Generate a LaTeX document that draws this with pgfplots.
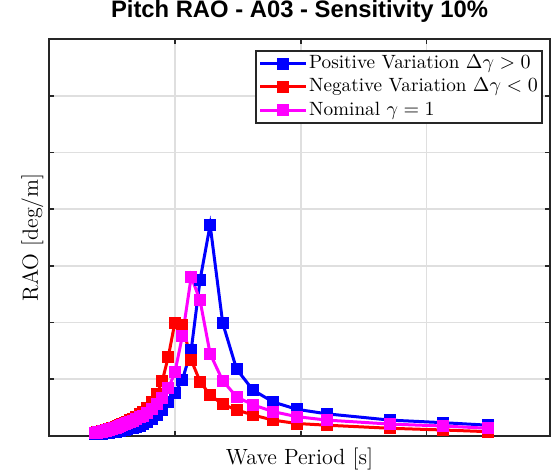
\documentclass[border=0pt]{standalone}
\usepackage{pgfplots}
\pgfplotsset{compat=1.18}
\usepackage{fontspec}
\newfontfamily\titlefont{Liberation Sans}
\definecolor{axgray}{HTML}{262626}
\definecolor{gridgray}{HTML}{DFDFDF}
\definecolor{posblue}{HTML}{0000FF}
\definecolor{negred}{HTML}{FF0000}
\definecolor{nommag}{HTML}{FF00FF}

\begin{document}
\begin{tikzpicture}
\begin{axis}[
  name=ax, scale only axis, width=250.5pt, height=198.5pt,
  xmin=0, xmax=39.8, ymin=0, ymax=7,
  xtick={0,10,20,30}, ytick={0,1,...,7},
  xticklabels={}, yticklabels={},
  grid=major, major grid style={draw=gridgray, line width=0.8pt},
  tick align=inside, major tick length=2.5pt,
  every tick/.style={draw=axgray, line width=0.8pt},
  axis line style={draw=axgray, line width=1pt},
  clip=false,
  title={\titlefont\bfseries\fontsize{11.9}{14}\selectfont Pitch RAO - A03 - Sensitivity 10\%},
  title style={at={(axis description cs:0.5,1.025)}, anchor=base},
  xlabel={Wave Period [s]}, ylabel={RAO [deg/m]},
  label style={font=\fontsize{11}{13}\selectfont},
  xlabel style={at={(axis description cs:0.5,-0.072)}, anchor=base},
  ylabel style={at={(axis description cs:-0.022,0.5)}, anchor=base, rotate=0},
  legend cell align=left,
  legend style={at={(axis description cs:0.986,0.972)}, anchor=north east,
    draw=axgray, line width=1pt, fill=white,
    font=\fontsize{9.6}{11.5}\selectfont,
    inner xsep=1.5pt, inner ysep=1pt, row sep=1.3pt,
    nodes={inner sep=0.6pt, text height=7pt, text depth=2.2pt}},
  legend image code/.code={\draw[mark repeat=2,mark phase=2,line width=1.5pt] plot coordinates {(0pt,0pt)(11.5pt,0pt)(23pt,0pt)};},
  every axis plot/.append style={line width=1.5pt, mark=square*, mark size=2.25pt},
]
\addplot[posblue, mark options={fill=posblue}] coordinates {
(3.67,0.032)(3.74,0.033)(3.82,0.034)(3.91,0.036)(3.99,0.038)(4.09,0.040)(4.18,0.042)(4.28,0.044)
(4.38,0.047)(4.49,0.050)(4.61,0.054)(4.73,0.058)(4.86,0.062)(4.99,0.067)(5.14,0.072)(5.29,0.078)
(5.45,0.085)(5.62,0.092)(5.80,0.100)(6.00,0.110)(6.20,0.120)(6.42,0.133)(6.66,0.148)(6.92,0.165)
(7.20,0.185)(7.50,0.210)(7.82,0.250)(8.18,0.300)(8.57,0.370)(9.00,0.460)(9.48,0.600)(10.0,0.760)
(10.6,0.990)(11.3,1.520)(12.0,2.750)(12.8,3.720)(13.8,1.990)(14.9,1.180)(16.2,0.810)(17.8,0.600)
(19.7,0.470)(22.1,0.390)(27.1,0.280)(31.3,0.235)(34.9,0.190)};
\addlegendentry{Positive Variation $\Delta\gamma>0$}
\addplot[negred, mark options={fill=negred}] coordinates {
(3.67,0.059)(3.74,0.061)(3.82,0.064)(3.91,0.067)(3.99,0.071)(4.09,0.076)(4.18,0.081)(4.28,0.087)
(4.38,0.093)(4.49,0.100)(4.61,0.108)(4.73,0.117)(4.86,0.127)(4.99,0.137)(5.14,0.148)(5.29,0.160)
(5.45,0.175)(5.62,0.190)(5.80,0.208)(6.00,0.228)(6.20,0.250)(6.42,0.275)(6.66,0.300)(6.92,0.340)
(7.20,0.380)(7.50,0.430)(7.82,0.500)(8.18,0.600)(8.57,0.740)(9.00,0.970)(9.48,1.400)(10.0,2.000)
(10.6,1.950)(11.3,1.340)(12.0,0.960)(12.8,0.720)(13.8,0.560)(14.9,0.460)(16.2,0.370)(17.8,0.280)
(19.7,0.220)(22.1,0.190)(27.1,0.136)(31.3,0.106)(34.9,0.076)};
\addlegendentry{Negative Variation $\Delta\gamma<0$}
\addplot[nommag, mark options={fill=nommag}] coordinates {
(3.67,0.058)(3.74,0.059)(3.82,0.061)(3.91,0.064)(3.99,0.067)(4.09,0.071)(4.18,0.076)(4.28,0.081)
(4.38,0.087)(4.49,0.093)(4.61,0.100)(4.73,0.108)(4.86,0.117)(4.99,0.126)(5.14,0.136)(5.29,0.146)
(5.45,0.158)(5.62,0.172)(5.80,0.188)(6.00,0.205)(6.20,0.225)(6.42,0.250)(6.66,0.270)(6.92,0.300)
(7.20,0.330)(7.50,0.360)(7.82,0.410)(8.18,0.470)(8.57,0.560)(9.00,0.670)(9.48,0.840)(10.0,1.120)
(10.6,1.770)(11.3,2.810)(12.0,2.390)(12.8,1.450)(13.8,0.975)(14.9,0.690)(16.2,0.550)(17.8,0.430)
(19.7,0.340)(22.1,0.280)(27.1,0.210)(31.3,0.176)(34.9,0.136)};
\addlegendentry{Nominal $\gamma=1$}
\end{axis}
\pgfresetboundingbox
\path ([xshift=-24.5pt,yshift=-17.5pt]ax.south west) rectangle ([xshift=1.5pt,yshift=19.5pt]ax.north east);
\end{tikzpicture}
\end{document}
